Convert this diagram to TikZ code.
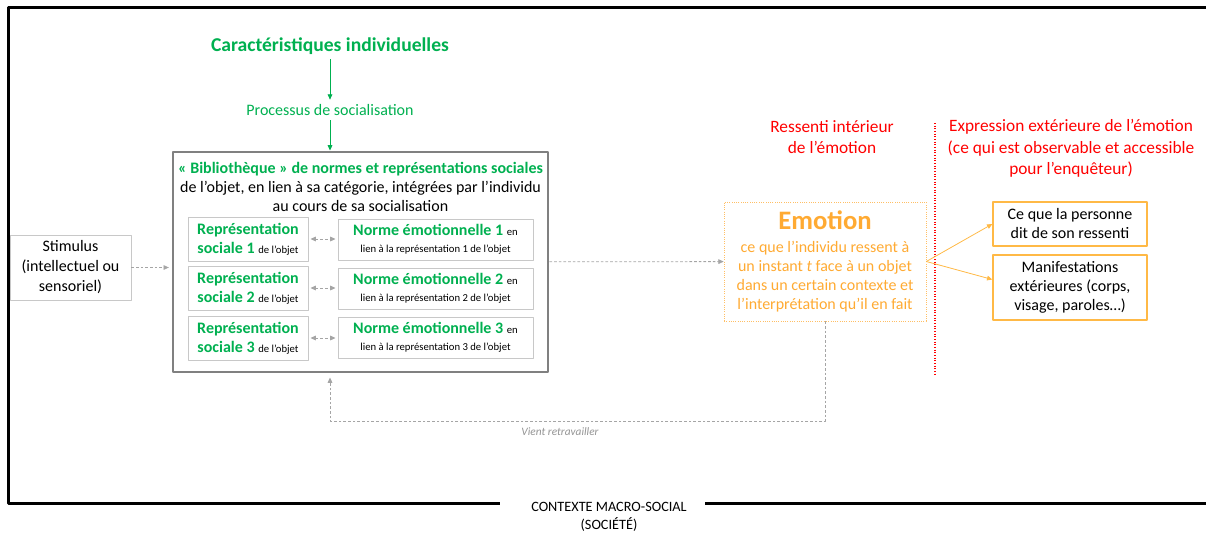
\documentclass[tikz,border=0pt]{standalone}
\usepackage{fontspec}
\setmainfont{Carlito}
\usetikzlibrary{arrows.meta}

\definecolor{grn}{RGB}{0,176,80}
\definecolor{emo}{RGB}{255,170,50}
\definecolor{orbox}{RGB}{255,185,70}
\definecolor{dgray}{RGB}{165,165,165}
\definecolor{libgray}{RGB}{128,128,128}
\definecolor{boxgray}{RGB}{200,200,200}
\definecolor{redtxt}{RGB}{255,0,0}

\newcommand{\fsz}[2]{\fontsize{#1}{#2}\selectfont}

\begin{document}
\begin{tikzpicture}[
	x=0.75pt, y=-0.75pt,
	>={Triangle[length=4pt,width=3.5pt]},
	line join=round,
	greenarrow/.style={draw=grn, line width=0.6pt, ->},
	grayarrow/.style={draw=dgray, line width=0.6pt, dash pattern=on 2pt off 1.5pt, ->},
	orangearrow/.style={draw=orbox, line width=0.6pt, ->},
	repbox/.style={draw=boxgray, line width=0.7pt, minimum width=90pt, minimum height=33pt,
		inner sep=0pt, align=center, font=\fsz{12}{14.25}},
	normebox/.style={draw=boxgray, line width=0.7pt, minimum width=146.25pt, minimum height=30.75pt,
		inner sep=0pt, align=center, font=\fsz{12}{12.75}},
	outbox/.style={draw=orbox, line width=1pt, minimum width=115.5pt,
		inner sep=0pt, align=center, font=\fsz{12}{14.25}},
	redlabel/.style={text=redtxt, align=center, font=\fsz{13}{16}}
	]
	\useasboundingbox (0,0) rectangle (1206,535);

	% cadre du contexte macro-social
	\draw[line width=2.25pt] (1212,8) -- (8,8) -- (8,503) -- (500,503);
	\draw[line width=2.25pt] (705,503) -- (1212,503);
	\node[align=center, font=\fsz{10.7}{14}] (ctx) at (609,517) {CONTEXTE MACRO-SOCIAL\\(SOCIÉTÉ)};

	% en haut
	\node[text=grn, font=\fsz{14.7}{16}\bfseries] (carac) at (330,46) {Caractéristiques individuelles};
	\node[text=grn, font=\fsz{12}{14}] (proc) at (330,110) {Processus de socialisation};

	% bibliotheque
	\node[draw=libgray, line width=2.2pt, minimum width=281.25pt, minimum height=165pt] (lib) at (360.5,262) {};
	\node[align=center, font=\fsz{12}{14.25}] (libtitle) at (360.5,187)
		{\textcolor{grn}{\bfseries « Bibliothèque » de normes et représentations sociales}\\
		de l’objet, en lien à sa catégorie, intégrées par l’individu\\
		au cours de sa socialisation};
	\draw[greenarrow] (carac) -- (proc);
	\draw[greenarrow] (proc) -- (lib.north -| proc);

	\node[repbox] (rep1) at (248,239) {\textcolor{grn}{\bfseries Représentation}\\\textcolor{grn}{\bfseries sociale 1} {\fsz{8}{9}de l’objet}};
	\node[repbox] (rep2) at (248,288) {\textcolor{grn}{\bfseries Représentation}\\\textcolor{grn}{\bfseries sociale 2} {\fsz{8}{9}de l’objet}};
	\node[repbox] (rep3) at (248,338) {\textcolor{grn}{\bfseries Représentation}\\\textcolor{grn}{\bfseries sociale 3} {\fsz{8}{9}de l’objet}};

	\node[normebox] (norme1) at (435.5,239.5) {\textcolor{grn}{\bfseries Norme émotionnelle 1} {\fsz{8}{9}en}\\{\fsz{8}{9}lien à la représentation 1 de l’objet}};
	\node[normebox] (norme2) at (435.5,288.5) {\textcolor{grn}{\bfseries Norme émotionnelle 2} {\fsz{8}{9}en}\\{\fsz{8}{9}lien à la représentation 2 de l’objet}};
	\node[normebox] (norme3) at (435.5,337.5) {\textcolor{grn}{\bfseries Norme émotionnelle 3} {\fsz{8}{9}en}\\{\fsz{8}{9}lien à la représentation 3 de l’objet}};

	\begin{scope}[grayarrow, <->, shorten <=1.5pt, shorten >=1.5pt]
		\draw (rep1) -- (norme1.west |- rep1);
		\draw (rep2) -- (norme2.west |- rep2);
		\draw (rep3) -- (norme3.west |- rep3);
	\end{scope}

	% stimulus
	\node[draw=boxgray, line width=0.7pt, minimum width=90.75pt, minimum height=48.75pt,
		inner sep=0pt, align=center, font=\fsz{12}{15}] (stim) at (70.5,267.5)
		{Stimulus\\(intellectuel ou\\sensoriel)};
	\draw[grayarrow, shorten >=2pt] (stim) -- (lib.west |- stim);

	% emotion
	\node[draw=emo!75, line width=0.5pt, dash pattern=on 0.7pt off 1pt, minimum width=151.5pt, minimum height=89.25pt,
		inner sep=0pt, align=center, text=emo, font=\fsz{12}{14.25}] (emotion) at (825,261.5)
		{{\fsz{20}{22}\bfseries Emotion}\\[3pt]
		ce que l’individu ressent à\\
		un instant \textit{t} face à un objet\\
		dans un certain contexte et\\
		l’interprétation qu’il en fait};
	\draw[grayarrow] (lib) -- (emotion);

	% retour
	\coordinate (back) at (330,421);
	\draw[grayarrow, shorten >=3pt] (emotion.south) |- (back) -- (back |- lib.south);
	\node[text=dgray!90!black, font=\fsz{8.5}{10}\itshape] (retour) at (560,432) {Vient retravailler};

	% partie droite
	\node[redlabel] (ressenti) at (832,137) {Ressenti intérieur\\de l’émotion};
	\node[redlabel] (expr) at (1071,148.5) {Expression extérieure de l’émotion\\(ce qui est observable et accessible\\pour l’enquêteur)};
	\draw[redtxt, line width=0.8pt, dash pattern=on 0.8pt off 1.2pt] (935,123) -- (935,375);

	\node[outbox, minimum height=33pt] (dit) at (1070,224) {Ce que la personne\\dit de son ressenti};
	\node[outbox, minimum height=48.75pt] (manif) at (1070,287.5) {Manifestations\\extérieures (corps,\\visage, paroles…)};
	\draw[orangearrow] (emotion.east) -- (dit.west);
	\draw[orangearrow] (emotion.east) -- ([yshift=6pt]manif.west);
\end{tikzpicture}
\end{document}
